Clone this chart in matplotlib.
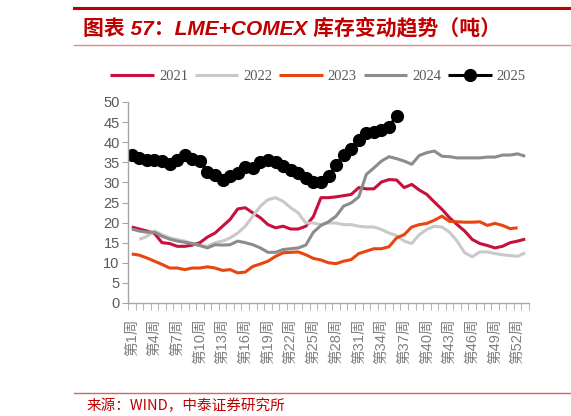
import matplotlib
matplotlib.use("Agg")
import matplotlib.pyplot as plt
from matplotlib.lines import Line2D
import numpy as np

plt.rcParams['font.family'] = ['Liberation Sans', 'Noto Sans CJK SC', 'DejaVu Sans']

# weekly inventory (10k t), weeks 1..53
weeks = [f"第{i}周" for i in range(1, 54)]

y2021 = [18.9, 18.4, 17.9, 17.3, 15.0, 14.8, 14.1, 14.1, 14.4, 15.0,
         16.4, 17.4, 19.1, 20.8, 23.4, 23.7, 22.4, 21.2, 19.5, 18.7,
         19.1, 18.4, 18.4, 19.1, 21.5, 26.2, 26.2, 26.4, 26.7, 27.0,
         28.7, 28.4, 28.4, 30.1, 30.7, 30.6, 28.7, 29.5, 28.1, 27.0,
         25.1, 23.3, 21.2, 19.5, 17.9, 15.8, 14.8, 14.3, 13.7, 14.1,
         15.0, 15.4, 15.9]
y2022 = [None, 15.8, 16.6, 17.9, 17.0, 16.2, 15.8, 15.4, 14.8, 14.3,
         14.1, 15.0, 15.4, 16.2, 17.4, 19.1, 21.6, 24.1, 25.7, 26.2,
         25.3, 23.7, 22.4, 19.9, 19.9, 19.5, 19.9, 19.9, 19.5, 19.5,
         19.1, 18.9, 18.9, 18.3, 17.4, 16.8, 15.4, 14.8, 17.0, 18.3,
         19.1, 18.9, 17.6, 15.4, 12.5, 11.5, 12.7, 12.7, 12.3, 12.0,
         11.8, 11.6, 12.5]
y2023 = [12.2, 11.9, 11.2, 10.4, 9.6, 8.7, 8.7, 8.3, 8.7, 8.7,
         9.0, 8.7, 8.1, 8.3, 7.5, 7.7, 9.1, 9.7, 10.4, 11.6,
         12.5, 12.6, 12.7, 12.0, 11.1, 10.7, 10.0, 9.8, 10.4, 10.8,
         12.3, 12.9, 13.5, 13.5, 14.0, 16.2, 17.0, 18.9, 19.5, 19.8,
         20.6, 21.6, 20.3, 20.2, 20.1, 20.1, 20.2, 19.3, 19.8, 19.3,
         18.5, 18.7, None]
y2024 = [18.4, 17.9, 17.6, 17.6, 16.6, 15.9, 15.4, 15.1, 14.8, 14.3,
         13.7, 14.5, 14.4, 14.5, 15.4, 15.0, 14.5, 13.7, 12.6, 12.6,
         13.3, 13.5, 13.7, 14.4, 17.6, 19.3, 20.2, 21.6, 24.1, 24.9,
         26.4, 32.0, 33.6, 35.3, 36.4, 35.9, 35.3, 34.5, 36.7, 37.4,
         37.8, 36.5, 36.4, 36.1, 36.1, 36.1, 36.1, 36.3, 36.3, 36.8,
         36.8, 37.1, 36.5]
y2025 = [36.8, 36.0, 35.6, 35.6, 35.3, 34.5, 35.6, 36.8, 35.8, 35.2,
         32.7, 31.8, 30.6, 31.5, 32.3, 33.9, 33.5, 35.1, 35.6, 35.1,
         34.1, 33.1, 32.3, 31.0, 30.2, 30.2, 31.5, 34.3, 36.8, 38.3,
         40.5, 42.2, 42.6, 43.0, 43.9, 46.5]

series = [
    ("2021", y2021, '#C8103C', None),
    ("2022", y2022, '#C9C9C9', None),
    ("2023", y2023, '#E8450F', None),
    ("2024", y2024, '#8C8C8C', None),
    ("2025", y2025, '#000000', 'o'),
]

fig = plt.figure(figsize=(5.71, 4.16), dpi=100)
ax = fig.add_axes([128/571, 1 - 303/416, 401/571, 201/416])

for name, vals, col, mk in series:
    v = np.array([np.nan if x is None else x for x in vals], dtype=float)
    ax.plot(np.arange(len(v)), v, color=col, lw=2.2, marker=mk,
            markersize=8.5 if mk else 0, label=name, solid_capstyle='butt')

ax.set_xlim(-0.5, 52.5)
ax.set_ylim(0, 50)
ax.set_yticks(range(0, 51, 5))
ax.tick_params(axis='y', length=4, color='#A6A6A6', labelcolor='#595959',
               labelsize=10.5, pad=2)

# labels every 3rd week, tick marks between categories
lab_pos = list(range(0, 53, 3))
ax.set_xticks(lab_pos)
ax.set_xticklabels([weeks[i] for i in lab_pos], rotation=90, fontsize=10.5,
                   color='#7F7F7F', va='top', ha='center')
ax.set_xticks(np.arange(-0.5, 53, 1), minor=True)
ax.tick_params(axis='x', which='major', length=0, pad=11)
ax.tick_params(axis='x', which='minor', length=5, color='#A6A6A6')

for s in ['top', 'right']:
    ax.spines[s].set_visible(False)
for s in ['left', 'bottom']:
    ax.spines[s].set_color('#A6A6A6')
    ax.spines[s].set_linewidth(1.0)

leg = fig.legend(loc='center', bbox_to_anchor=(318/571, 1 - 76/416), ncol=5,
                 frameon=False, handlelength=3.0, handletextpad=0.35,
                 columnspacing=0.45,
                 prop={'family': ['Liberation Serif'], 'size': 10.5})
for t in leg.get_texts():
    t.set_color('#595959')

# header / footer
fig.add_artist(Line2D([74/571, 1], [1 - 8/416] * 2, color='#C00000', lw=2.2))
fig.text(83/571, 1 - 28/416, "图表 57：LME+COMEX 库存变动趋势（吨）",
         color='#C00000', fontsize=15, fontweight='bold', style='italic',
         va='center', ha='left',
         family=['Liberation Sans', 'Noto Sans CJK SC'])
fig.add_artist(Line2D([74/571, 1], [1 - 45/416] * 2, color='#E08A8A', lw=1.0))
fig.add_artist(Line2D([74/571, 1], [1 - 393/416] * 2, color='#E06060', lw=1.0))
fig.text(87/571, 1 - 406/416, "来源：WIND，中泰证券研究所", color='#C00000',
         fontsize=10.5, va='center', ha='left',
         family=['Noto Sans CJK SC', 'DejaVu Sans'])

fig.savefig("out.png", dpi=100)
